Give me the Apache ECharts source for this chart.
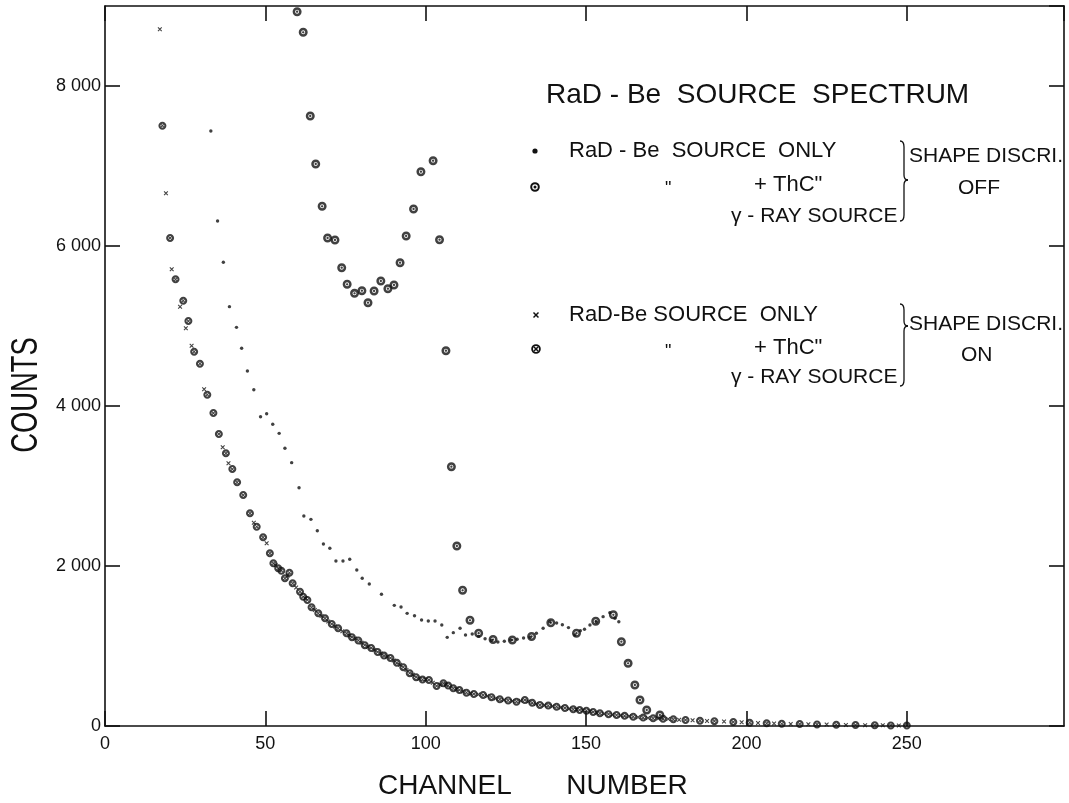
<!DOCTYPE html>
<html>
<head>
<meta charset="utf-8">
<script src="https://cdn.jsdelivr.net/npm/echarts@6/dist/echarts.min.js"></script>
<style>
html,body{margin:0;padding:0;background:#fff;}
#chart{width:1069px;height:803px;}
</style>
</head>
<body>
<div id="chart"></div>
<script>
// ---------- data (channel, counts) ----------
// RaD-Be source only, shape discrimination OFF  (small dots)
const srcOnlyOff = [
  [33.0,7437],[35.1,6312],[36.9,5796],[38.8,5242],[41.0,4983],[42.6,4721],[44.4,4437],[46.4,4204],
  [48.5,3866],[50.4,3904],[52.3,3771],[54.3,3658],[56.1,3471],[58.2,3292],[60.5,2979],[62.0,2625],
  [64.2,2583],[66.2,2441],[68.1,2275],[70.1,2221],[72.0,2062],[74.2,2062],[76.3,2085],[78.5,1950],
  [80.2,1846],[82.4,1775],[86.2,1646],[90.2,1508],[92.3,1487],[94.2,1408],[96.5,1379],[98.7,1325],
  [100.8,1312],[102.9,1312],[105.0,1262],[106.7,1108],[108.6,1167],[110.7,1221],[112.4,1137],
  [114.5,1150],[116.5,1120],[118.5,1090],[120.5,1070],[122.5,1050],[124.5,1060],[126.5,1075],
  [128.5,1085],[130.5,1100],[132.5,1110],[134.5,1160],[136.6,1221],[138.7,1304],[140.8,1287],
  [142.6,1265],[144.5,1230],[146.5,1137],[148.2,1190],[149.5,1210],[151.2,1262],[153.2,1300],
  [155.3,1367],[157.4,1417],[159.0,1346],[160.2,1304]
];
// RaD-Be + ThC'' gamma source, shape discrimination OFF  (circled dots)
const thcOff = [
  [59.9,8929],[61.8,8671],[64.0,7625],[65.7,7025],[67.7,6496],[69.4,6100],[71.7,6075],[73.8,5729],
  [75.5,5521],[77.8,5408],[80.1,5442],[82.0,5292],[83.9,5437],[86.0,5562],[88.2,5467],[90.1,5512],
  [92.0,5792],[93.9,6125],[96.2,6462],[98.5,6929],[102.3,7067],[104.3,6079],[106.3,4692],[108.0,3242],
  [109.7,2250],[111.5,1696],[113.8,1321],[116.5,1160],[121.0,1080],[127.0,1075],[133.0,1120],
  [139.0,1290],[147.0,1160],[153.0,1310],[158.5,1390],
  [161.0,1054],[163.1,783],[165.2,512],[166.8,325],[168.9,200],[173.0,137]
];
// RaD-Be source only, shape discrimination ON  (crosses)
const srcOnlyOn = [
  [17.1,8709],[19.0,6659],[20.8,5708],[23.4,5242],[25.2,4971],[27.0,4754],[30.9,4208],[36.7,3483],
  [38.5,3283],[46.4,2541],[50.4,2283],[53.2,2010],[57.0,1880],[59.6,1730],[62.5,1600],[65.4,1450],
  [67.5,1375],[69.6,1305],[71.7,1245],[74.0,1185],[76.2,1130],[78.0,1095],[80.0,1040],[82.0,990],
  [84.0,950],[86.0,905],[88.0,865],[90.0,820],[92.0,765],[94.0,700],[96.0,640],[98.0,590],
  [100.0,585],[102.2,540],[104.5,515],[106.3,520],[109.6,460],[111.6,430],[114.0,405],[116.4,395],
  [119.2,375],[121.8,345],[124.4,325],[127.0,312],[129.6,315],[132.0,305],[134.4,275],[137.0,258],
  [139.5,248],[142.1,232],[144.7,215],[147.0,205],[149.0,196],[151.2,183],[153.3,165],[155.6,153],
  [158.2,142],[160.8,132],[163.4,122],[166.2,110],[169.3,100],[172.5,93],[175.6,86],[179.0,79],
  [183.2,71],[187.7,63],[193.0,55],[198.5,46],[203.6,38],[208.6,30],[213.8,26],[219.3,22],
  [225.0,18],[231.0,14],[237.0,10],[242.5,8],[247.5,6]
];
// RaD-Be + ThC'' gamma source, shape discrimination ON  (circled crosses)
const thcOn = [
  [17.9,7504],[20.3,6100],[22.0,5583],[24.4,5317],[26.0,5062],[27.8,4679],[29.6,4529],[31.9,4142],
  [33.8,3912],[35.5,3650],[37.7,3408],[39.7,3212],[41.2,3046],[43.1,2887],[45.2,2658],[47.3,2491],
  [49.3,2358],[51.4,2158],[52.5,2033],[54.0,1971],[55.0,1941],[56.1,1846],[57.5,1916],[58.5,1783],
  [60.8,1679],[61.8,1616],[63.1,1575],[64.4,1483],[66.5,1408],[68.6,1346],[70.7,1275],[72.7,1221],
  [75.3,1158],[77.0,1110],[79.0,1070],[81.0,1010],[83.0,975],[85.0,925],[87.0,880],[89.0,850],
  [91.0,790],[93.0,735],[95.0,660],[97.0,610],[99.0,580],[101.0,575],[103.4,500],[105.5,533],
  [107.0,505],[108.6,471],[110.5,450],[112.7,417],[115.0,400],[117.9,387],[120.5,360],[123.1,333],
  [125.7,320],[128.3,304],[130.9,325],[133.2,290],[135.6,262],[138.2,255],[140.8,242],[143.4,225],
  [146.0,208],[148.0,200],[150.1,192],[152.2,175],[154.3,158],[157.0,148],[159.5,137],[162.0,127],
  [164.7,117],[167.8,105],[170.9,96],[174.0,90],[177.2,83],[181.0,75],[185.5,67],[190.0,60],
  [195.9,50],[201.0,42],[206.3,33],[211.0,28],[216.6,25],[222.0,20],[228.0,16],[234.0,12],
  [240.0,9],[245.0,7],[250.0,5]
];
// axis ticks
const xTicks = [0, 50, 100, 150, 200, 250];
const yTicks = [0, 2000, 4000, 6000, 8000];
const xRange = [0, 299];
const yRange = [0, 9000];

// ---------- symbols ----------
function circ(r, cw) {
  const k = 0.5523 * r;
  return cw
    ? `M0,${-r} C${k},${-r} ${r},${-k} ${r},0 C${r},${k} ${k},${r} 0,${r} C${-k},${r} ${-r},${k} ${-r},0 C${-r},${-k} ${-k},${-r} 0,${-r} Z `
    : `M0,${-r} C${-k},${-r} ${-r},${-k} ${-r},0 C${-r},${k} ${-k},${r} 0,${r} C${k},${r} ${r},${k} ${r},0 C${r},${-k} ${k},${-r} 0,${-r} Z `;
}
const crossPath = 'M-2.3,-1.4 L-1.4,-2.3 L2.3,1.4 L1.4,2.3 Z M1.4,-2.3 L2.3,-1.4 L-1.4,2.3 L-2.3,1.4 Z';
const dotCirclePath = circ(5, true) + circ(2.2, false) + circ(1.3, true);
const crossCirclePath = circ(5, true) + circ(2.4, false) + crossPath;
const xMarkPath = 'M-3,-2 L-2,-3 L3,2 L2,3 Z M2,-3 L3,-2 L-2,3 L-3,2 Z';

const INK = '#111';
const FONT = '"Liberation Sans", Arial, sans-serif';

const chart = echarts.init(document.getElementById('chart'), null, {renderer: 'canvas'});

function fmtY(v) {
  if (yTicks.indexOf(v) < 0) return '';
  return String(v).replace(/\B(?=(\d{3})+(?!\d))/g, ' ');
}
function fmtX(v) { return xTicks.indexOf(v) < 0 ? '' : String(v); }

const axisCommon = {
  type: 'value',
  axisLine: {show: true, onZero: false, lineStyle: {color: INK, width: 1.6}},
  axisTick: {show: true, inside: true, length: 15, lineStyle: {color: INK, width: 1.6}},
  splitLine: {show: false},
};

// ---------- graphic helpers (legend / annotations) ----------
function txt(x, y, s, size, extra) {
  return Object.assign({
    type: 'text', x: x, y: y, silent: true,
    style: {text: s, font: `${size}px ${FONT}`, fill: INK, align: 'left', verticalAlign: 'middle'}
  }, extra || {});
}
function seg(x1, y1, x2, y2, w) {
  return {type: 'line', silent: true, shape: {x1: x1, y1: y1, x2: x2, y2: y2},
    style: {stroke: INK, lineWidth: w || 1.3, fill: null}};
}
function quad(x1, y1, cx, cy, x2, y2) {
  return {type: 'bezierCurve', silent: true,
    shape: {x1: x1, y1: y1, cpx1: cx, cpy1: cy, x2: x2, y2: y2},
    style: {stroke: INK, lineWidth: 1.3, fill: null}};
}
function brace(x, yTop, yTip, yBot) {
  const w = 4, t = 8;
  return [
    quad(x, yTop, x + w, yTop, x + w, yTop + 6),
    seg(x + w, yTop + 6, x + w, yTip - 5),
    quad(x + w, yTip - 5, x + w, yTip, x + t, yTip),
    quad(x + t, yTip, x + w, yTip, x + w, yTip + 5),
    seg(x + w, yTip + 5, x + w, yBot - 6),
    quad(x + w, yBot - 6, x + w, yBot, x, yBot)
  ];
}
function legDot(cx, cy) {
  return [{type: 'circle', silent: true, shape: {cx: cx, cy: cy, r: 2.6}, style: {fill: INK}}];
}
function legDotCircle(cx, cy) {
  return [
    {type: 'ring', silent: true, shape: {cx: cx, cy: cy, r: 4.8, r0: 2.8}, style: {fill: INK}},
    {type: 'circle', silent: true, shape: {cx: cx, cy: cy, r: 1.5}, style: {fill: INK}}
  ];
}
function legCross(cx, cy, s) {
  return [seg(cx - s, cy - s, cx + s, cy + s, 1.5), seg(cx + s, cy - s, cx - s, cy + s, 1.5)];
}
function legCrossCircle(cx, cy) {
  return [{type: 'ring', silent: true, shape: {cx: cx, cy: cy, r: 4.8, r0: 3.0}, style: {fill: INK}}]
    .concat(legCross(cx, cy, 2.2));
}

const graphics = [].concat(
  [
    txt(27, 395, 'COUNTS', 36, {rotation: Math.PI / 2, scaleX: 0.76,
      style: {text: 'COUNTS', font: `36px ${FONT}`, fill: INK, align: 'center', verticalAlign: 'middle'}}),
    txt(378, 786, 'CHANNEL       NUMBER', 28),
    txt(546, 95, 'RaD - Be  SOURCE  SPECTRUM', 28),
    // group: shape discri OFF
    txt(569, 151, 'RaD - Be  SOURCE  ONLY', 22),
    txt(665, 189, '"', 18),
    txt(754, 185, '+ ThC"', 22),
    txt(731, 216, 'γ - RAY SOURCE', 21),
    txt(909, 156, 'SHAPE DISCRI.', 21),
    txt(958, 188, 'OFF', 21),
    // group: shape discri ON
    txt(569, 315, 'RaD-Be SOURCE  ONLY', 22),
    txt(665, 352, '"', 18),
    txt(754, 348, '+ ThC"', 22),
    txt(731, 377, 'γ - RAY SOURCE', 21),
    txt(909, 324, 'SHAPE DISCRI.', 21),
    txt(961, 355, 'ON', 21)
  ],
  legDot(535, 151),
  legDotCircle(535, 187),
  legCross(536, 315, 2.5),
  legCrossCircle(536, 349),
  brace(900, 141, 180, 221),
  brace(900, 304, 326, 386)
);

const option = {
  backgroundColor: '#fff',
  animation: false,
  grid: {left: 105, top: 6, width: 959, height: 720, containLabel: false},
  xAxis: [
    Object.assign({}, axisCommon, {
      position: 'bottom', min: xRange[0], max: xRange[1], interval: 50,
      axisLabel: {show: true, formatter: fmtX, color: INK, fontSize: 18, fontFamily: FONT, margin: 9, showMaxLabel: false}
    }),
    Object.assign({}, axisCommon, {
      position: 'top', min: xRange[0], max: xRange[1], interval: 50, axisLabel: {show: false}
    })
  ],
  yAxis: [
    Object.assign({}, axisCommon, {
      position: 'left', min: yRange[0], max: yRange[1], interval: 2000,
      axisLabel: {show: true, formatter: fmtY, color: INK, fontSize: 18, fontFamily: FONT, margin: 4, showMaxLabel: false}
    }),
    Object.assign({}, axisCommon, {
      position: 'right', min: yRange[0], max: yRange[1], interval: 2000, axisLabel: {show: false}
    })
  ],
  series: [
    {name: 'RaD-Be source only (shape discri. off)', type: 'scatter', xAxisIndex: 0, yAxisIndex: 0,
     data: srcOnlyOff, symbol: 'circle', symbolSize: 3.4, itemStyle: {color: INK}, z: 3},
    {name: 'RaD-Be + ThC" (shape discri. off)', type: 'scatter', xAxisIndex: 0, yAxisIndex: 0,
     data: thcOff, symbol: 'path://' + dotCirclePath, symbolSize: 9, itemStyle: {color: INK}, z: 4},
    {name: 'RaD-Be source only (shape discri. on)', type: 'scatter', xAxisIndex: 0, yAxisIndex: 0,
     data: srcOnlyOn, symbol: 'path://' + xMarkPath, symbolSize: 4.5, itemStyle: {color: INK}, z: 3},
    {name: 'RaD-Be + ThC" (shape discri. on)', type: 'scatter', xAxisIndex: 0, yAxisIndex: 0,
     data: thcOn, symbol: 'path://' + crossCirclePath, symbolSize: 8, itemStyle: {color: INK}, z: 4}
  ],
  graphic: graphics
};
chart.setOption(option);
</script>
</body>
</html>
